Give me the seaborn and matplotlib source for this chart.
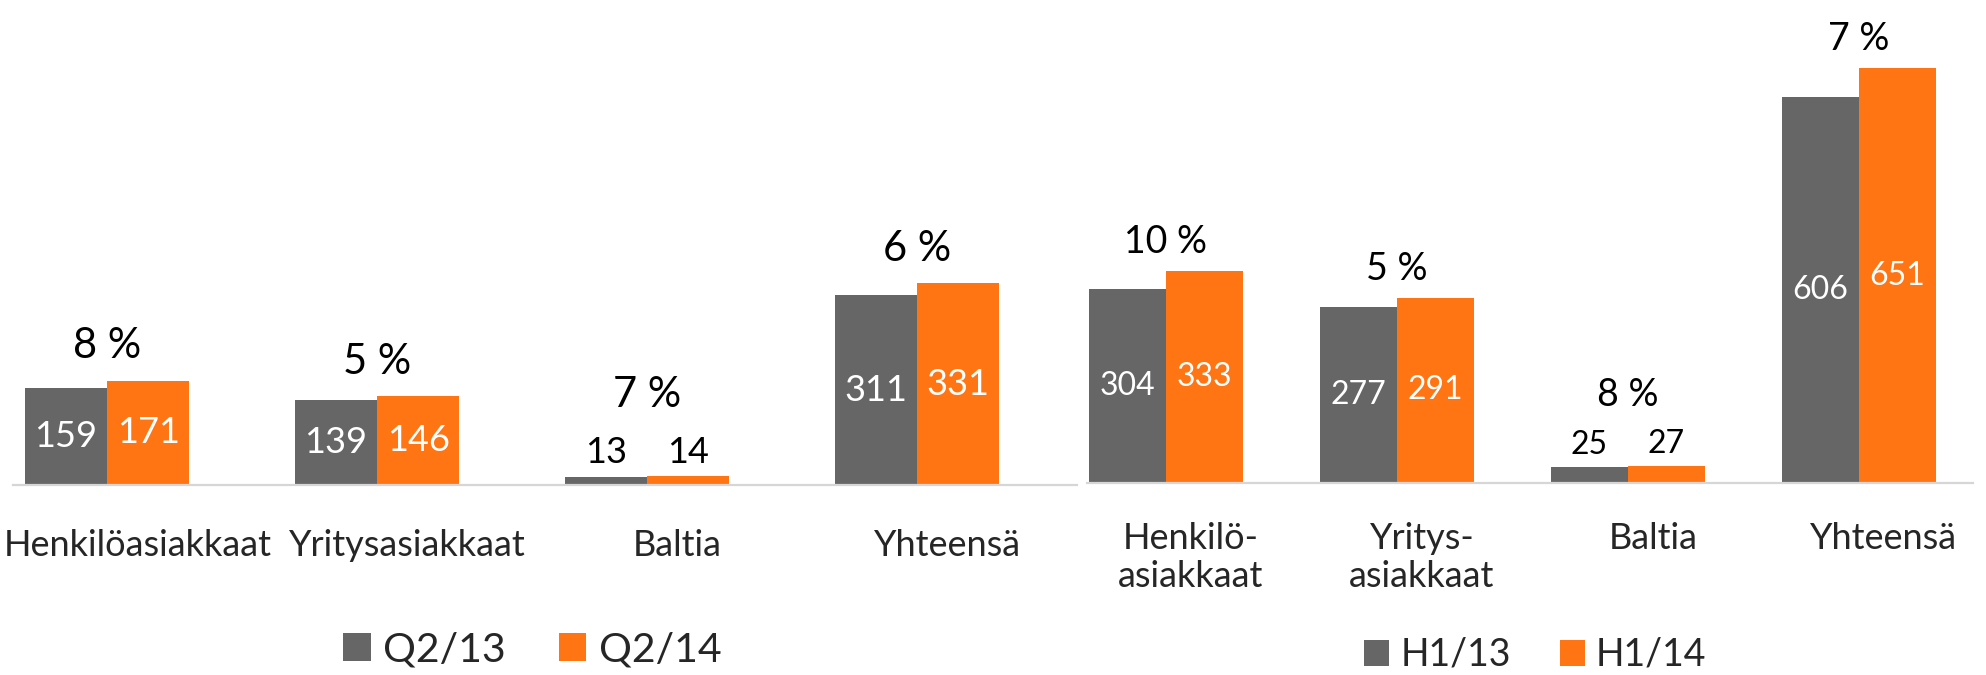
"""
Grouped bar comparison: Q2/13 vs Q2/14 and H1/13 vs H1/14.
"""

import matplotlib
matplotlib.use('Agg')
import matplotlib.pyplot as plt
from matplotlib.transforms import ScaledTranslation
import seaborn as sns
import pandas as pd

# Quarter panel
quarter_categories = ['Henkilöasiakkaat', 'Yritysasiakkaat', 'Baltia', 'Yhteensä']
quarter_periods = ['Q2/13', 'Q2/14']
q2_13 = [159, 139, 13, 311]
q2_14 = [171, 146, 14, 331]
quarter_change = ['8 %', '5 %', '7 %', '6 %']

# Half-year panel
half_categories = ['Henkilö-\nasiakkaat', 'Yritys-\nasiakkaat', 'Baltia', 'Yhteensä']
half_periods = ['H1/13', 'H1/14']
h1_13 = [304, 277, 25, 606]
h1_14 = [333, 291, 27, 651]
half_change = ['10 %', '5 %', '8 %', '7 %']

GREY = '#666666'
ORANGE = '#FF7514'
BASELINE = '#d6d6d6'


def to_frame(categories, periods, first, second):
    return pd.DataFrame({
        'category': categories * 2,
        'period': [periods[0]] * len(first) + [periods[1]] * len(second),
        'value': first + second,
    })


def draw_panel(ax, categories, periods, first, second, changes,
               width, xlim, ymax, fs_val, fs_pct, fs_cat, fs_leg,
               cat_pad, cat_shift, legend_pos, small_val_pad, pct_off, small_pct_off):
    df = to_frame(categories, periods, first, second)
    sns.barplot(data=df, x='category', y='value', hue='period',
                hue_order=periods, palette=[GREY, ORANGE], width=width,
                saturation=1, linewidth=0, errorbar=None, ax=ax)

    # value labels: white inside tall bars, black above the short ones
    for container in ax.containers:
        vals = [b.get_height() for b in container]
        inside = [f'{v:.0f}' if v >= 50 else '' for v in vals]
        outside = [f'{v:.0f}' if v < 50 else '' for v in vals]
        ax.bar_label(container, labels=inside, label_type='center',
                     color='white', fontsize=fs_val)
        ax.bar_label(container, labels=outside, label_type='edge',
                     padding=small_val_pad, color='black', fontsize=fs_val)

    # change percentages above each group
    for i, txt in enumerate(changes):
        top = max(first[i], second[i])
        off = small_pct_off if top < 50 else pct_off
        ax.annotate(txt, xy=(i, top), xytext=(0, off), textcoords='offset points',
                    ha='center', va='baseline', fontsize=fs_pct, color='black')

    ax.set_xlim(*xlim)
    ax.set_ylim(0, ymax)
    ax.set_xlabel('')
    ax.set_ylabel('')
    ax.set_yticks([])
    ax.tick_params(axis='x', length=0, pad=cat_pad, labelsize=fs_cat)
    for lab in ax.get_xticklabels():
        lab.set_transform(lab.get_transform() +
                          ScaledTranslation(cat_shift / 72, 0, ax.figure.dpi_scale_trans))
    for side in ['top', 'left', 'right']:
        ax.spines[side].set_visible(False)
    ax.spines['bottom'].set_color(BASELINE)
    ax.spines['bottom'].set_linewidth(1.6)

    handles, labels = ax.get_legend_handles_labels()
    ax.legend(handles, labels, loc='center', bbox_to_anchor=legend_pos,
              ncol=2, frameon=False, fontsize=fs_leg,
              handlelength=0.67, handleheight=0.67, handletextpad=0.3,
              columnspacing=1.3)


sns.set_style('white')
plt.rcParams['font.family'] = ['Lato', 'DejaVu Sans']

fig = plt.figure(figsize=(19.86, 6.75), dpi=100)
W, H = 1986, 675

# left axes: x 13..1077 px, baseline at 485 px
ax1 = fig.add_axes([13 / W, (H - 485) / H, 1064 / W, 485 / H])
draw_panel(ax1, quarter_categories, quarter_periods, q2_13, q2_14, quarter_change,
           width=0.61, xlim=(-0.348, 3.593), ymax=485 / 0.61,
           fs_val=26, fs_pct=30, fs_cat=26, fs_leg=29.5,
           cat_pad=32, cat_shift=22, legend_pos=(0.488, -0.34),
           small_val_pad=5.5, pct_off=16, small_pct_off=50)

# right axes: x 1087..1973 px, baseline at 483 px
ax2 = fig.add_axes([1087 / W, (H - 483) / H, 886 / W, 483 / H])
draw_panel(ax2, half_categories, half_periods, h1_13, h1_14, half_change,
           width=0.667, xlim=(-0.342, 3.494), ymax=483 / 0.637,
           fs_val=23, fs_pct=27, fs_cat=26, fs_leg=27,
           cat_pad=28, cat_shift=18, legend_pos=(0.506, -0.356),
           small_val_pad=5, pct_off=13, small_pct_off=43)

fig.savefig('out.png', dpi=100)
